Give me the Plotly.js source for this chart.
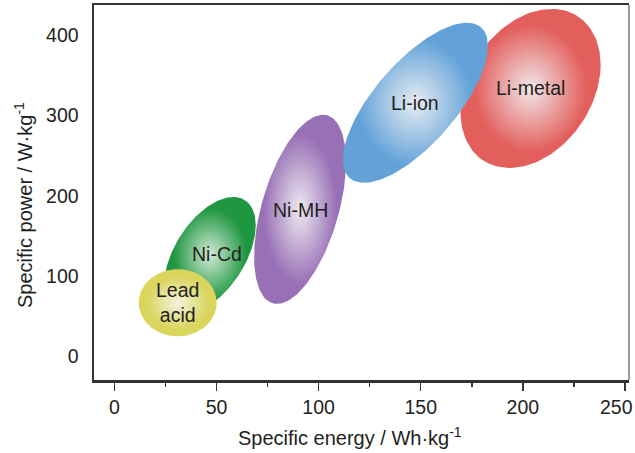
<!DOCTYPE html>
<html>
<head>
<meta charset="utf-8">
<script src="https://cdn.plot.ly/plotly-3.0.1.min.js"></script>
<style>html,body{margin:0;padding:0;background:#fff;}#chart{width:635px;height:453px;}</style>
</head>
<body>
<div id="chart"></div>
<script>
// Battery chemistries (in drawing order, back to front)
var chemistries   = ['Ni-Cd', 'Lead<br>acid', 'Ni-MH', 'Li-metal', 'Li-ion'];
// Centre of each region: specific energy (Wh/kg) and specific power (W/kg)
var energyCenter  = [46.8, 31.0, 90.9, 203.8, 147.4];
var powerCenter   = [126.5, 67.0, 183.1, 333.3, 315.5];
// Half-span of each region along energy and power
var energyHalf    = [22.4, 19.1, 22.5, 34.3, 35.5];
var powerHalf     = [72.0, 41.7, 117.5, 98.8, 99.5];
// Correlation (tilt) between energy and power within each region
var correlation   = [0.51, 0.0, 0.50, 0.30, 0.71];
// Where each region's name sits (energy, power)
var labelEnergy   = [50.3, 31.0, 90.9, 203.8, 147.4];
var labelPower    = [127.5, 67.0, 182.0, 333.3, 315.5];
// Colours: centre highlight and rim
var centerColors  = ['#d3ead7', '#f3f2de', '#eee9f2', '#f2e7e9', '#e7ecf1'];
var rimColors     = ['#1f9741', '#d9d55d', '#9870b5', '#e25f5c', '#62a2d8'];

var xTicks = [0, 50, 100, 150, 200, 250];
var yTicks = [0, 100, 200, 300, 400];
var xTitle = 'Specific energy / Wh·kg<sup>-1</sup>';
var yTitle = 'Specific power / W·kg<sup>-1</sup>';

var FAMILY = 'Liberation Sans, Arial, sans-serif';
var font = {family: FAMILY, size: 19.5, color: '#231f20'};

var traces = [];
var annotations = [];
var N = 160;
for (var i = 0; i < chemistries.length; i++) {
  var phi = Math.acos(correlation[i]);
  var xs = [], ys = [];
  for (var k = 0; k <= N; k++) {
    var t = 2 * Math.PI * k / N;
    xs.push(energyCenter[i] + energyHalf[i] * Math.cos(t));
    ys.push(powerCenter[i] + powerHalf[i] * Math.cos(t - phi));
  }
  traces.push({
    type: 'scatter', mode: 'lines', x: xs, y: ys,
    fill: 'toself', line: {width: 0, color: rimColors[i]},
    fillcolor: rimColors[i],
    fillgradient: {type: 'radial', colorscale: [[0, centerColors[i]], [0.8, rimColors[i]], [1, rimColors[i]]]},
    hoverinfo: 'skip', showlegend: false
  });
  annotations.push({
    x: labelEnergy[i], y: labelPower[i], xref: 'x', yref: 'y',
    text: chemistries[i], showarrow: false, font: font
  });
}

// last x tick label: tucked in so it stays inside the picture, as in the original
var lastTick = xTicks[xTicks.length - 1];
annotations.push({
  x: lastTick, xref: 'x', yref: 'paper', y: -0.072, xanchor: 'center', yanchor: 'middle',
  xshift: -8, text: String(lastTick), showarrow: false, font: font
});

annotations.push({
  xref: 'paper', yref: 'paper', x: 0.4785, y: -0.152,
  xanchor: 'center', yanchor: 'middle', text: xTitle, showarrow: false,
  font: {family: FAMILY, size: 20, color: '#231f20'}
});
annotations.push({
  xref: 'paper', yref: 'paper', x: -0.1308, y: 0.4667, textangle: -90,
  xanchor: 'center', yanchor: 'middle', text: yTitle, showarrow: false,
  font: {family: FAMILY, size: 20, color: '#231f20'}
});

var layout = {
  width: 635, height: 453,
  margin: {l: 94, r: 6, t: 5, b: 73},
  paper_bgcolor: '#fff', plot_bgcolor: '#fff',
  font: font,
  showlegend: false,
  xaxis: {
    range: [-10, 252], tickvals: xTicks,
    ticktext: xTicks.map(function (v) { return v === lastTick ? ' ' : String(v); }),
    ticks: 'outside', ticklen: 8, tickwidth: 1.5, tickcolor: '#333',
    minor: {dtick: 25, tick0: 25, ticks: 'outside', ticklen: 4, tickwidth: 1.5, tickcolor: '#333', showgrid: false},
    showline: true, linewidth: 2.5, linecolor: '#333', mirror: true,
    showgrid: false, zeroline: false,
    tickfont: font
  },
  yaxis: {
    range: [-29, 437], tickvals: yTicks, ticktext: yTicks.map(String),
    ticks: '', ticklabelstandoff: 9,
    showline: true, linewidth: 2.5, linecolor: '#333', mirror: false,
    showgrid: false, zeroline: false,
    tickfont: font
  },
  shapes: [{type: 'line', xref: 'paper', yref: 'paper', x0: 1, x1: 1, y0: 0, y1: 1,
            line: {color: '#555', width: 1.2}}],
  annotations: annotations
};

Plotly.newPlot('chart', traces, layout, {displayModeBar: false, staticPlot: true});
</script>
</body>
</html>
